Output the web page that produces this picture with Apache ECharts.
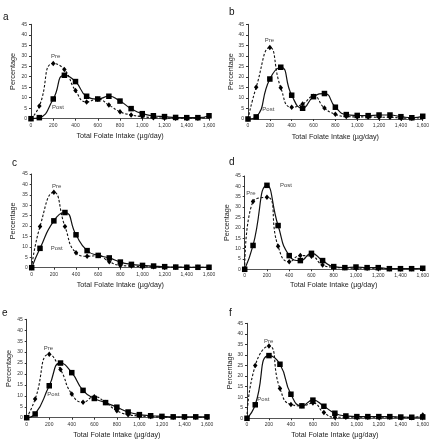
<!DOCTYPE html>
<html>
<head>
<meta charset="utf-8">
<script src="https://cdn.jsdelivr.net/npm/echarts@6/dist/echarts.min.js"></script>
<style>html,body{margin:0;padding:0;background:#fff}#c{width:432px;height:440px}</style>
</head>
<body>
<div id="c"></div>
<script>
// Intake bins (µg/day)
var intake = [0, 75, 200, 300, 400, 500, 600, 700, 800, 900, 1000, 1100, 1200, 1300, 1400, 1500, 1600];
var panelLetters = ['a', 'b', 'c', 'd', 'e', 'f'];
var xTitle = 'Total Folate Intake (\u00b5g/day)';
var yTitle = 'Percentage';
var xMax = 1600, xStep = 200, yMax = 45, yStep = 5;

var preA  = [0, 6.0, 26.3, 23.4, 13.4, 8.0, 9.3, 6.5, 3.3, 1.8, 1.0, 0.5, 0.3, 0.2, 0.2, 0.2, 1.0];
var postA = [0, 0.5, 9.4, 20.7, 17.7, 10.7, 9.4, 10.7, 8.4, 4.8, 2.4, 1.4, 1.0, 0.6, 0.5, 0.5, 1.4];
var preB  = [0, 15.1, 34.0, 14.9, 5.6, 7.1, 10.8, 5.2, 2.2, 1.2, 1.0, 1.0, 0.8, 0.8, 0.5, 0.3, 1.0];
var postB = [0, 1.0, 19.0, 24.6, 11.3, 5.1, 10.6, 12.1, 5.6, 2.1, 1.7, 1.6, 1.9, 1.9, 1.1, 0.6, 1.3];
var preC  = [0, 19.8, 36.2, 19.8, 7.2, 5.5, 5.8, 2.9, 1.1, 0.8, 0.5, 0.4, 0.2, 0.2, 0.2, 0.2, 0.2];
var postC = [0, 9.3, 22.5, 26.5, 15.8, 8.2, 5.9, 4.7, 2.7, 1.6, 1.1, 0.8, 0.5, 0.3, 0.2, 0.2, 0.2];
var preD  = [0, 32.7, 34.7, 11.1, 3.7, 6.6, 6.3, 2.1, 1.0, 0.7, 0.5, 0.5, 0.4, 0.3, 0.3, 0.3, 0.3];
var postD = [0, 11.5, 40.5, 21.1, 6.6, 4.2, 7.7, 4.2, 1.3, 0.8, 1.1, 0.8, 0.8, 0.3, 0.3, 0.3, 0.5];
var preE  = [0, 8.5, 29.0, 22.0, 10.8, 7.1, 9.6, 6.9, 3.2, 1.4, 0.8, 0.5, 0.3, 0.2, 0.2, 0.2, 0.2];
var postE = [0, 1.7, 14.6, 25.0, 20.6, 12.5, 8.8, 6.9, 4.8, 2.6, 1.4, 0.9, 0.6, 0.4, 0.4, 0.4, 0.4];
var preF  = [0, 25.0, 34.2, 14.1, 6.5, 5.9, 7.2, 2.7, 0.5, 0.5, 0.5, 0.5, 0.5, 0.5, 0.4, 0.3, 1.6];
var postF = [0, 6.4, 29.7, 25.6, 11.4, 5.9, 8.6, 5.7, 2.4, 1.1, 0.8, 0.8, 0.8, 0.8, 0.6, 0.5, 0.6];

var preAll = [preA, preB, preC, preD, preE, preF];
var postAll = [postA, postB, postC, postD, postE, postF];

// layout (pixels)
var grids = [
  {left: 31,  top: 24.3, width: 178, height: 94.4},
  {left: 248, top: 24.3, width: 178, height: 94.7},
  {left: 31.7, top: 174, width: 177.3, height: 93.7},
  {left: 244.7, top: 176, width: 180.3, height: 93.3},
  {left: 26.7, top: 319.3, width: 180.3, height: 98.4},
  {left: 247, top: 323.3, width: 179, height: 95}
];
var xGaps = [14, 14.3, 13.5, 12.5, 14, 13];
var yGaps = [14, 12.3, 14.7, 14, 13.7, 12.5];
var letterPos = [[3, 18], [229, 13], [12, 164], [229, 163], [2, 314], [229, 314]];
var prePos  = [[55.7, 56.7], [269.3, 40.7], [56.7, 186], [251, 193.3], [48.3, 348.3], [268.7, 341.3]];
var postPos = [[58, 107.7], [268.3, 109.3], [56.7, 248.7], [286, 185], [53.3, 394.3], [263.3, 399.7]];

var font = 'Liberation Sans, Arial, sans-serif';
function pairs(ys) { return intake.map(function (x, i) { return [x, ys[i]]; }); }

var xAxes = [], yAxes = [], series = [], graphic = [];
for (var i = 0; i < 6; i++) {
  xAxes.push({
    gridIndex: i, type: 'value', min: 0, max: xMax, interval: xStep,
    name: xTitle, nameLocation: 'middle', nameGap: xGaps[i],
    nameTextStyle: {fontFamily: font, fontSize: 7.2, color: '#222'},
    axisLine: {show: true, lineStyle: {color: '#555', width: 1.2}},
    axisTick: {show: true, length: 2, lineStyle: {color: '#333'}},
    axisLabel: {fontFamily: font, fontSize: 5, color: '#333', margin: 4},
    splitLine: {show: false}
  });
  yAxes.push({
    gridIndex: i, type: 'value', min: 0, max: yMax, interval: yStep,
    name: yTitle, nameLocation: 'middle', nameGap: yGaps[i], nameRotate: 90,
    nameTextStyle: {fontFamily: font, fontSize: 7.2, color: '#222'},
    axisLine: {show: true, lineStyle: {color: '#222', width: 0.9}},
    axisTick: {show: true, length: 2, lineStyle: {color: '#333'}},
    axisLabel: {fontFamily: font, fontSize: 5, color: '#333', margin: 4},
    splitLine: {show: false}
  });
  series.push({
    name: 'Pre', type: 'line', xAxisIndex: i, yAxisIndex: i, data: pairs(preAll[i]),
    smooth: 0.55, symbol: 'diamond', symbolSize: [4.5, 5.5], showSymbol: true,
    lineStyle: {color: '#111', width: 1.1, type: [2.5, 1.8]},
    itemStyle: {color: '#000'}, z: 2
  });
  series.push({
    name: 'Post', type: 'line', xAxisIndex: i, yAxisIndex: i, data: pairs(postAll[i]),
    smooth: 0.55, symbol: 'rect', symbolSize: 5.5, showSymbol: true,
    lineStyle: {color: '#111', width: 1.2},
    itemStyle: {color: '#000'}, z: 3
  });
  graphic.push({type: 'text', left: letterPos[i][0], top: letterPos[i][1] - 6,
    style: {text: panelLetters[i], font: '10px ' + font, fill: '#111'}});
  graphic.push({type: 'text', x: prePos[i][0], y: prePos[i][1],
    style: {text: 'Pre', font: '6px ' + font, fill: '#444', align: 'center', verticalAlign: 'middle'}});
  graphic.push({type: 'text', x: postPos[i][0], y: postPos[i][1],
    style: {text: 'Post', font: '6px ' + font, fill: '#444', align: 'center', verticalAlign: 'middle'}});
}

var chart = echarts.init(document.getElementById('c'), null, {renderer: 'canvas'});
chart.setOption({
  animation: false,
  backgroundColor: '#fff',
  grid: grids,
  xAxis: xAxes,
  yAxis: yAxes,
  series: series,
  graphic: graphic
});
</script>
</body>
</html>
